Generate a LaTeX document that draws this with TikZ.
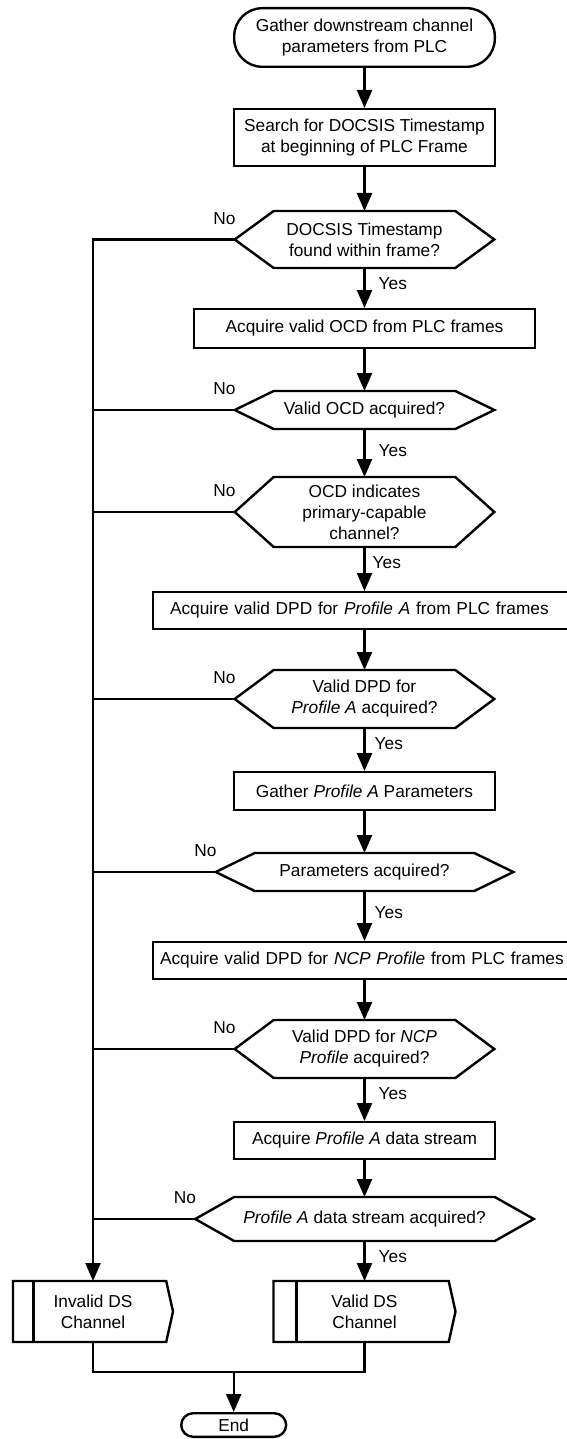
\documentclass[tikz,border=0pt]{standalone}
\usepackage{fontspec}
\setmainfont{Liberation Sans}
\usetikzlibrary{arrows.meta,positioning}

\begin{document}
\begin{tikzpicture}[
    font=\fontsize{8.65pt}{10.5pt}\selectfont,
    line/.style={draw=black, line width=1.2pt},
    arrow/.style={line, -{Triangle[length=9pt, width=7.5pt]}},
    proc/.style={rectangle, line, minimum width=130.3pt, minimum height=18.3pt, align=center, inner sep=2pt},
    term/.style={proc, rounded corners=14pt, minimum height=29.3pt},
    decision/.style={rectangle, inner sep=0pt, outer sep=0pt, minimum width=129.8pt, align=center},
    result/.style={rectangle, inner sep=0pt, outer sep=0pt, minimum height=30.5pt, align=center},
    nolabel/.style={anchor=south east, inner sep=0pt, xshift=1pt, yshift=7pt},
    yeslabel/.style={anchor=north west, inner sep=0pt, xshift=6.5pt, yshift=-4pt}
    ]
    \useasboundingbox (0,0) rectangle (283.5pt,-719.5pt);

    \node[term] (start) at (182.25pt,-18.75pt) {Gather downstream channel\\parameters from PLC};
    \node[proc, below=20pt of start, minimum height=28.3pt] (search) {Search for DOCSIS Timestamp\\at beginning of PLC Frame};
    \node[decision, below=22pt of search, minimum height=28.5pt] (dia1) {DOCSIS Timestamp\\found within frame?};
    \node[proc, below=20pt of dia1, minimum width=170.3pt, minimum height=19.3pt] (ocd) {Acquire valid OCD from PLC frames};
    \node[decision, below=21pt of ocd, minimum height=19pt] (dia2) {Valid OCD acquired?};
    \node[decision, below=24pt of dia2, minimum height=35pt] (dia3) {OCD indicates\\primary-capable\\channel?};
    \node[proc, below=22pt of dia3, xshift=17.75pt, align=left, text width=230pt, inner xsep=8.5pt] (dpda) {Acquire valid DPD for \textit{Profile A} from PLC frames};
    \node[decision, below=20pt of dpda, xshift=-17.75pt, minimum height=29pt] (dia4) {Valid DPD for\\\textit{Profile A} acquired?};
    \node[proc, below=21.5pt of dia4, minimum height=18.8pt] (params) {Gather \textit{Profile A} Parameters};
    \node[decision, below=21pt of params, minimum width=148.8pt, minimum height=19pt] (dia5) {Parameters acquired?};
    \node[proc, below=25pt of dia5, xshift=12.75pt, align=left, text width=230pt, inner xsep=3.5pt] (dpdn) {Acquire valid DPD for \textit{NCP Profile} from PLC frames};
    \node[decision, below=20pt of dpdn, xshift=-12.75pt, minimum height=29pt] (dia6) {Valid DPD for \textit{NCP}\\\textit{Profile} acquired?};
    \node[proc, below=21.5pt of dia6] (stream) {Acquire \textit{Profile A} data stream};
    \node[decision, below=18.5pt of stream, minimum width=169.3pt, minimum height=22pt] (dia7) {\textit{Profile A} data stream acquired?};
    \node[result, below=20pt of dia7, minimum width=91pt] (valid) {Valid DS\\Channel};
    \node[result, left=50.25pt of valid, minimum width=80pt] (invalid) {Invalid DS\\Channel};
    \node[term, below=35pt of valid, xshift=-65.4pt, minimum width=52.5pt, minimum height=11.8pt, rounded corners=6pt] (end) {End};

    % decision and result outlines
    \foreach \i in {1,...,7}
      \draw[line] (dia\i.west) -- ([xshift=19.5pt]dia\i.north west) -- ([xshift=-19.5pt]dia\i.north east) -- (dia\i.east) -- ([xshift=-19.5pt]dia\i.south east) -- ([xshift=19.5pt]dia\i.south west) -- cycle;
    \foreach \n/\w in {invalid/10.25pt, valid/11.5pt} {
      \draw[line] (\n.north west) -- ([xshift=-3.4pt]\n.north east) -- (\n.east) -- ([xshift=-3.4pt]\n.south east) -- (\n.south west) -- cycle;
      \draw[line] ([xshift=\w]\n.north west) -- ([xshift=\w]\n.south west);
    }

    % main column
    \draw[arrow] (start) -- (search);
    \draw[arrow] (search) -- (dia1);
    \draw[arrow] (dia1) -- node[yeslabel, pos=0] {Yes} (ocd);
    \draw[arrow] (ocd) -- (dia2);
    \draw[arrow] (dia2) -- node[yeslabel, pos=0, yshift=-3pt] {Yes} (dia3);
    \draw[arrow] (dia3.south) -- node[yeslabel, pos=0, xshift=-3pt] {Yes} (dia3.south |- dpda.north);
    \draw[arrow] (dpda.south -| dia4) -- (dia4);
    \draw[arrow] (dia4) -- node[yeslabel, pos=0, xshift=-2pt] {Yes} (params);
    \draw[arrow] (params) -- (dia5);
    \draw[arrow] (dia5.south) -- node[yeslabel, pos=0, xshift=-2pt, yshift=-3pt] {Yes} (dia5.south |- dpdn.north);
    \draw[arrow] (dpdn.south -| dia6) -- (dia6);
    \draw[arrow] (dia6) -- node[yeslabel, pos=0] {Yes} (stream);
    \draw[arrow] (stream) -- (dia7);
    \draw[arrow] (dia7) -- node[yeslabel, pos=0] {Yes} (valid);

    % failure branch
    \draw[arrow] (dia1.west) node[nolabel] {No} -| (invalid.north);
    \foreach \i in {2,...,7}
      \draw[line] (dia\i.west) node[nolabel] {No} -- (dia\i.west -| invalid.north);

    % join to end
    \draw[line] (invalid.south) -- ++(0,-15pt) coordinate (merge) -| (valid.south);
    \draw[arrow] (merge -| end.north) -- (end.north);
  \end{tikzpicture}
\end{document}
